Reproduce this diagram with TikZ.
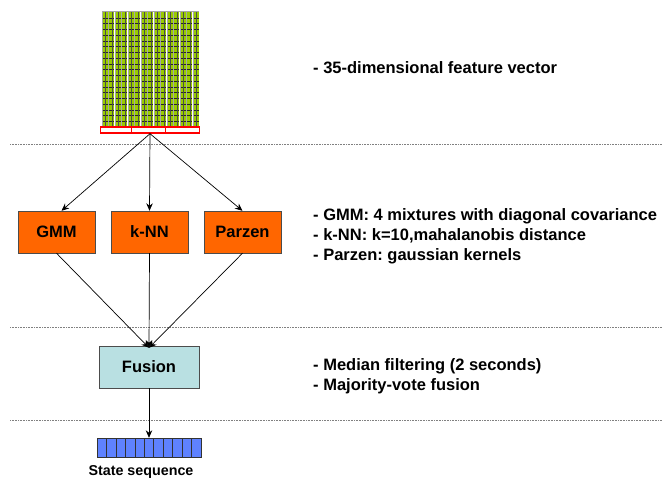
\documentclass[tikz,border=0pt]{standalone}
\usepackage{fontspec}
\setmainfont{Liberation Sans}
\usetikzlibrary{arrows.meta}
\definecolor{featgreen}{HTML}{99CC00}
\definecolor{boxorange}{HTML}{FF6600}
\definecolor{fusioncyan}{HTML}{B9E0E2}
\definecolor{seqblue}{HTML}{5F82FF}
\frenchspacing
\begin{document}
\begin{tikzpicture}[x=1pt,y=-1pt,
  clf/.style={draw=gray!60!black, fill=boxorange, minimum width=77pt, minimum height=42pt,
    inner sep=0pt, font=\fontsize{16.5}{18}\selectfont\bfseries},
  fusebox/.style={draw=gray!60!black, fill=fusioncyan, minimum width=100pt, minimum height=42pt,
    inner sep=0pt, font=\fontsize{16.5}{18}\selectfont\bfseries},
  note/.style={anchor=west, inner sep=0pt, align=left,
    font=\fontsize{16.5}{20}\selectfont\bfseries},
  sep/.style={gray, densely dotted, line width=0.6pt},
  arr/.style={-{Stealth[length=7.5pt,width=6.5pt]}, line width=0.7pt},
]
\useasboundingbox (0,0) rectangle (662,480);

% separators between the stages
\draw[sep] (10,144) -- (662,144);
\draw[sep] (10,327) -- (662,327);
\draw[sep] (10,420) -- (662,420);

% feature vectors: 15 columns of cells
\foreach \i in {0,...,14} {
  \pgfmathsetmacro{\xa}{102+\i*6.5}
  \fill[featgreen] (\xa,12) rectangle ++(5.8,115);
  \foreach \j in {1,...,20}
    \draw[black!85, line width=0.35pt] (\xa,12+\j*5.75) -- ++(5.8,0);
  \draw[gray!70, line width=0.9pt] (\xa,11.5) -- ++(0,115.5);
  \draw[black!70, line width=0.35pt] (\xa+3.3,12) -- ++(0,115);
}
\draw[gray!70, line width=0.9pt] (102,11.5) -- (199,11.5);
\node[draw=red, line width=1.4pt, minimum width=99pt, minimum height=6pt, inner sep=0pt] (fv) at (150,130) {};
\draw[red, line width=0.8pt] (131,127) -- (131,133) (165,127) -- (165,133);

% classifiers
\node[clf] (gmm) at (56.5,232) {GMM};
\node[clf] (knn) at (149.5,232) {k-NN};
\node[clf] (parzen) at (242.5,232) {Parzen};

% fusion and state sequence
\node[fusebox] (fusion) at (149,367) {Fusion};
\node[draw=black!80, fill=seqblue, minimum width=104pt, minimum height=19pt, inner sep=0pt] (seq) at (149,447.5) {};
\foreach \k in {1,...,10}
  \draw[black!80, line width=0.5pt] (97+\k*9.45,438) -- ++(0,19);
\node[inner sep=0pt, font=\fontsize{14.3}{16}\selectfont\bfseries] (seqlabel) at (141,472) {State sequence};

% connectors
\draw[arr] (fv.south) -- ([xshift=5pt]gmm.north);
\draw[arr] (fv.south) -- (knn.north);
\draw[arr] (fv.south) -- (parzen.north);
\coordinate (fin) at ([yshift=-2pt]fusion.north);
\draw[arr] (gmm.south) -- (fin);
\draw[arr] (knn.south) -- (fin);
\draw[arr] (parzen.south) -- (fin);
\draw[arr] (fusion.south) -- (seq.north);

% annotations
\node[note] (n1) at (313,68) {- 35-dimensional feature vector};
\node[note] (n2) at (313,236) {- GMM: 4 mixtures with diagonal covariance\\- k-NN: k=10,mahalanobis distance\\- Parzen: gaussian kernels};
\node[note] (n3) at (313,376) {- Median filtering (2 seconds)\\- Majority-vote fusion};
\end{tikzpicture}
\end{document}
